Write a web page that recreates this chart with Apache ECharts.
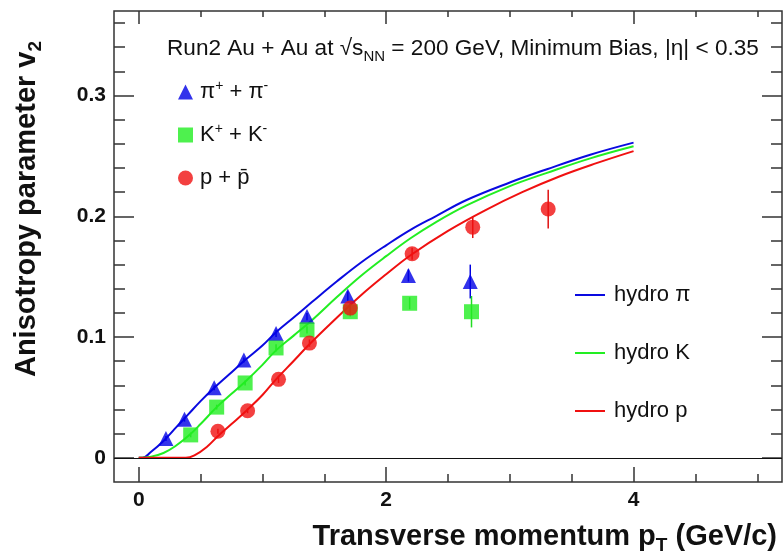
<!DOCTYPE html>
<html>
<head>
<meta charset="utf-8">
<script src="https://cdn.jsdelivr.net/npm/echarts@6/dist/echarts.min.js"></script>
<style>
  html, body { margin: 0; padding: 0; background: #fff; }
  #chart { width: 784px; height: 557px; }
</style>
</head>
<body>
<div id="chart"></div>
<script>
// measured points (pT, v2, error)
const pionPt = [0.22, 0.37, 0.61, 0.85, 1.11, 1.36, 1.69, 2.18, 2.68];
const pionV2 = [0.016, 0.032, 0.058, 0.081, 0.103, 0.117, 0.134, 0.151, 0.146];
const pionErr = [0.002, 0.002, 0.002, 0.002, 0.003, 0.003, 0.004, 0.005, 0.014];

const kaonPt = [0.42, 0.63, 0.86, 1.11, 1.36, 1.71, 2.19, 2.69];
const kaonV2 = [0.019, 0.042, 0.062, 0.091, 0.106, 0.121, 0.128, 0.121];
const kaonErr = [0.002, 0.002, 0.002, 0.003, 0.003, 0.004, 0.005, 0.013];

const protonPt = [0.64, 0.88, 1.13, 1.38, 1.71, 2.21, 2.70, 3.31];
const protonV2 = [0.022, 0.039, 0.065, 0.095, 0.124, 0.169, 0.191, 0.206];
const protonErr = [0.002, 0.002, 0.003, 0.003, 0.004, 0.005, 0.009, 0.016];

// hydro curves
const hydroPiPt = [0, 0.03, 0.1, 0.2, 0.3, 0.4, 0.5, 0.6, 0.73, 0.86, 1.0, 1.11, 1.25, 1.4, 1.6, 1.8, 2.0, 2.2, 2.4, 2.65, 3.0, 3.3, 3.65, 4.0];
const hydroPiV2 = [0, 0, 0.005, 0.014, 0.025, 0.036, 0.047, 0.057, 0.069, 0.081, 0.093, 0.104, 0.116, 0.129, 0.146, 0.162, 0.176, 0.189, 0.200, 0.2135, 0.228, 0.239, 0.251, 0.261];

const hydroKPt = [0, 0.1, 0.2, 0.3, 0.4, 0.5, 0.63, 0.75, 0.86, 1.0, 1.11, 1.25, 1.4, 1.6, 1.8, 2.0, 2.2, 2.4, 2.65, 3.0, 3.3, 3.65, 4.0];
const hydroKV2 = [0, 0.001, 0.004, 0.010, 0.018, 0.028, 0.042, 0.053, 0.063, 0.077, 0.089, 0.101, 0.114, 0.133, 0.151, 0.167, 0.182, 0.195, 0.209, 0.225, 0.236, 0.248, 0.258];

const hydroPPt = [0, 0.2, 0.38, 0.45, 0.55, 0.65, 0.75, 0.87, 1.0, 1.11, 1.25, 1.37, 1.55, 1.79, 2.0, 2.2, 2.5, 2.8, 3.1, 3.4, 3.7, 4.0];
const hydroPV2 = [0, 0, 0, 0.002, 0.009, 0.019, 0.028, 0.039, 0.052, 0.065, 0.080, 0.093, 0.111, 0.134, 0.152, 0.168, 0.188, 0.205, 0.220, 0.233, 0.244, 0.254];

// ticks
const xMajorTicks = [0, 2, 4];
const xMinorTicks = [0.5, 1, 1.5, 2.5, 3, 3.5, 4.5, 5];
const yMajorTicks = [0, 0.1, 0.2, 0.3];
const yMinorTicks = [0.02, 0.04, 0.06, 0.08, 0.12, 0.14, 0.16, 0.18, 0.22, 0.24, 0.26, 0.28, 0.32, 0.34, 0.36];

const pairs = (xs, ys, es) => xs.map((x, i) => es ? [x, ys[i], es[i]] : [x, ys[i]]);

const FONT = 'Arial, "Liberation Sans", Helvetica, sans-serif';
const frameColor = '#333';
const blue = '#0a0ae0', green = '#22ee22', red = '#f01010';

function errBar(color) {
	return function (params, api) {
		const x = api.value(0), y = api.value(1), e = api.value(2);
		const a = api.coord([x, y + e]);
		const b = api.coord([x, y - e]);
		return {
			type: 'line',
			shape: { x1: a[0], y1: a[1], x2: b[0], y2: b[1] },
			style: { stroke: color, lineWidth: 1.5 }
		};
	};
}

function xAx(pos, ticks, len, labels) {
	return {
		type: 'value', min: -0.2, max: 5.2, position: pos,
		axisLine: { show: false, onZero: false },
		splitLine: { show: false },
		axisTick: { show: true, inside: true, length: len, customValues: ticks, lineStyle: { color: frameColor, width: 1.5 } },
		axisLabel: labels ? {
			show: true, customValues: ticks, margin: 8,
			fontFamily: FONT, fontWeight: 'bold', fontSize: 21, color: '#111'
		} : { show: false }
	};
}

function yAx(pos, ticks, len, labels) {
	return {
		type: 'value', min: -0.02, max: 0.37, position: pos,
		axisLine: { show: false, onZero: false },
		splitLine: { show: false },
		axisTick: { show: true, inside: true, length: len, customValues: ticks, lineStyle: { color: frameColor, width: 1.5 } },
		axisLabel: labels ? {
			show: true, customValues: ticks, margin: 8,
			fontFamily: FONT, fontWeight: 'bold', fontSize: 21, color: '#111',
			formatter: v => (Math.abs(v) < 1e-9 ? '0' : v.toFixed(1))
		} : { show: false }
	};
}

const chart = echarts.init(document.getElementById('chart'));
chart.setOption({
	backgroundColor: '#fff',
	animation: false,
	title: {
		left: 162, top: 29,
		text: 'Run2 Au + Au at √s{sub|NN} = 200 GeV, Minimum Bias, |η| < 0.35',
		textStyle: {
			fontFamily: FONT, fontWeight: 'normal', fontSize: 22.6, lineHeight: 30, color: '#111',
			rich: { sub: { fontFamily: FONT, fontSize: 15, lineHeight: 15, verticalAlign: 'bottom', color: '#111' } }
		}
	},
	grid: {
		left: 114, right: 2, top: 11, bottom: 75,
		show: true, borderColor: frameColor, borderWidth: 1.5,
		containLabel: false, outerBoundsMode: 'none'
	},
	xAxis: [
		xAx('bottom', xMajorTicks, 15, true),
		xAx('bottom', xMinorTicks, 8, false),
		xAx('top', xMajorTicks, 13, false),
		xAx('top', xMinorTicks, 6, false)
	],
	yAxis: [
		yAx('left', yMajorTicks, 20, true),
		yAx('left', yMinorTicks, 11, false),
		yAx('right', yMajorTicks, 20, false),
		yAx('right', yMinorTicks, 11, false)
	],
	legend: [{
		data: ['pion', 'kaon', 'proton'],
		orient: 'vertical', left: 173, top: 74,
		itemWidth: 15, itemHeight: 15, itemGap: 17,
		formatter: name => ({
			pion: 'π{sup|+} + π{sup|-}',
			kaon: 'K{sup|+} + K{sup|-}',
			proton: 'p + p\u0304'
		})[name],
		textStyle: {
			fontFamily: FONT, fontSize: 22, lineHeight: 26, color: '#111', padding: [0, 0, 0, 2],
			rich: { sup: { fontFamily: FONT, fontSize: 14, lineHeight: 14, verticalAlign: 'top', color: '#111' } }
		}
	}, {
		data: ['hydro π', 'hydro K', 'hydro p'],
		orient: 'vertical', left: 570, top: 277,
		icon: 'rect', itemWidth: 30, itemHeight: 2, itemGap: 32,
		textStyle: { fontFamily: FONT, fontSize: 22, lineHeight: 26, color: '#111', padding: [0, 0, 0, 4] }
	}],
	graphic: [{
		type: 'text', x: 27, y: 209, rotation: Math.PI / 2,
		style: {
			text: 'Anisotropy parameter v{sub|2}',
			fontFamily: FONT, fontWeight: 'bold', fontSize: 29, lineHeight: 36, fill: '#111',
			align: 'center', verticalAlign: 'middle',
			rich: { sub: { fontFamily: FONT, fontWeight: 'bold', fontSize: 19, lineHeight: 19, verticalAlign: 'bottom', fill: '#111' } }
		}
	}, {
		type: 'text', right: 7, top: 519,
		style: {
			text: 'Transverse momentum p{sub|T} (GeV/c)',
			fontFamily: FONT, fontWeight: 'bold', fontSize: 29, lineHeight: 36, fill: '#111',
			rich: { sub: { fontFamily: FONT, fontWeight: 'bold', fontSize: 19, lineHeight: 19, verticalAlign: 'bottom', fill: '#111' } }
		}
	}],
	series: [{
		name: 'hydro π', type: 'line', data: pairs(hydroPiPt, hydroPiV2),
		smooth: 0.4, symbol: 'none', color: blue, lineStyle: { color: blue, width: 2 },
		markLine: {
			silent: true, symbol: 'none', label: { show: false },
			lineStyle: { color: '#111', width: 1.2, type: 'solid' },
			data: [{ yAxis: 0 }]
		}
	}, {
		name: 'hydro K', type: 'line', data: pairs(hydroKPt, hydroKV2),
		smooth: 0.4, symbol: 'none', color: green, lineStyle: { color: green, width: 2 }
	}, {
		name: 'hydro p', type: 'line', data: pairs(hydroPPt, hydroPV2),
		smooth: 0.4, symbol: 'none', color: red, lineStyle: { color: red, width: 2 }
	}, {
		name: 'pion', type: 'scatter', symbol: 'triangle', symbolSize: 15,
		itemStyle: { color: '#0000e6' }, data: pairs(pionPt, pionV2), z: 4
	}, {
		name: 'kaon', type: 'scatter', symbol: 'rect', symbolSize: 15,
		itemStyle: { color: '#22ee22' }, data: pairs(kaonPt, kaonV2), z: 4
	}, {
		name: 'proton', type: 'scatter', symbol: 'circle', symbolSize: 15,
		itemStyle: { color: '#f01010' }, data: pairs(protonPt, protonV2), z: 4
	}, {
		name: 'pion err', type: 'custom', renderItem: errBar('#0000e0'),
		data: pairs(pionPt, pionV2, pionErr), z: 3
	}, {
		name: 'kaon err', type: 'custom', renderItem: errBar('#22dd22'),
		data: pairs(kaonPt, kaonV2, kaonErr), z: 3
	}, {
		name: 'proton err', type: 'custom', renderItem: errBar('#e01010'),
		data: pairs(protonPt, protonV2, protonErr), z: 3
	}]
});
</script>
</body>
</html>
